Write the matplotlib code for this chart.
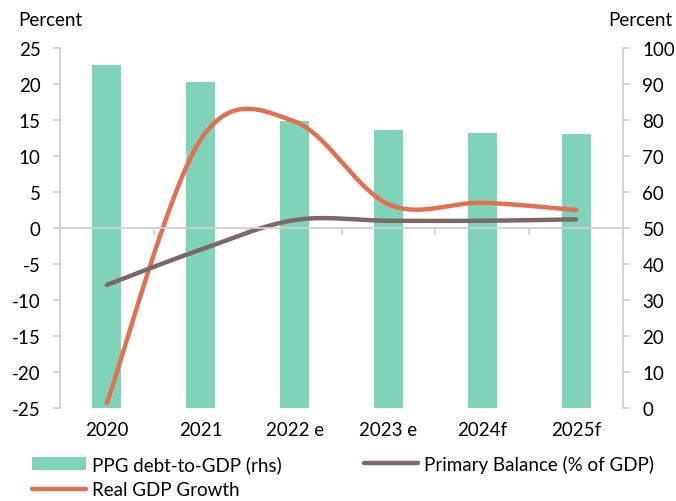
import matplotlib.pyplot as plt
import matplotlib.transforms as mtransforms
import numpy as np

plt.rcParams['font.family'] = ['Lato', 'DejaVu Sans']
plt.rcParams['font.size'] = 13.5
plt.rcParams['axes.unicode_minus'] = False

# Data

years = ['2020', '2021', '2022 e', '2023 e', '2024f', '2025f']
debt_to_gdp = [95.3, 90.6, 79.8, 77.2, 76.4, 76.1]        # rhs
real_gdp_growth = [-24.3, 12.3, 14.8, 3.3, 3.5, 2.5]      # lhs
primary_balance = [-7.9, -3.0, 1.1, 1.0, 1.0, 1.2]        # lhs

bar_color = '#7fd3b9'
gdp_color = '#e07050'
pb_color = '#7d6868'
axis_grey = '#d0d0d0'


def smooth(x, y, n=40):
    """Bezier smoothing through the points (like a spreadsheet 'smoothed line')."""
    x = np.asarray(x, float)
    y = np.asarray(y, float)
    px = np.concatenate([[x[0]], x, [x[-1]]])
    py = np.concatenate([[y[0]], y, [y[-1]]])
    t = np.linspace(0, 1, n)
    xs, ys = [], []
    for i in range(1, len(px) - 2):
        p0 = np.array([px[i], py[i]])
        p3 = np.array([px[i + 1], py[i + 1]])
        p1 = p0 + (p3 - np.array([px[i - 1], py[i - 1]])) / 6
        p2 = p3 - (np.array([px[i + 2], py[i + 2]]) - p0) / 6
        b = ((1 - t) ** 3)[:, None] * p0 + (3 * (1 - t) ** 2 * t)[:, None] * p1 \
            + (3 * (1 - t) * t ** 2)[:, None] * p2 + (t ** 3)[:, None] * p3
        xs.append(b[:, 0])
        ys.append(b[:, 1])
    return np.concatenate(xs), np.concatenate(ys)


# Figure

fig = plt.figure(figsize=(6.76, 5.02), dpi=100)
ax = fig.add_axes([0.0888, 0.1853, 0.8328, 0.7171])
ax2 = ax.twinx()

x = np.arange(len(years))

# bars on the right axis, drawn behind the lines
ax2.bar(x, debt_to_gdp, width=0.31, color=bar_color, zorder=1,
        label='PPG debt-to-GDP (rhs)')
ax2.set_ylim(0, 100)
ax2.set_yticks(np.arange(0, 101, 10))

ax.set_zorder(ax2.get_zorder() + 1)
ax.patch.set_visible(False)

sx, sy = smooth(x, real_gdp_growth)
l_gdp, = ax.plot(sx, sy, color=gdp_color, lw=3.2, solid_capstyle='round',
                 label='Real GDP Growth')
sx, sy = smooth(x, primary_balance)
l_pb, = ax.plot(sx, sy, color=pb_color, lw=3.2, solid_capstyle='round',
                label='Primary Balance (% of GDP)')

ax.set_ylim(-25, 25)
ax.set_yticks(np.arange(-25, 26, 5))
ax.set_xlim(-0.5, len(years) - 0.5)

# x axis line sits at zero, with ticks between the categories
ax.spines['bottom'].set_position(('data', 0))
ax.set_xticks(np.arange(-0.5, len(years), 1.0))
ax.set_xticklabels([])
ax.tick_params(axis='x', length=5, width=1.2, color=axis_grey, direction='out')

trans = mtransforms.blended_transform_factory(ax.transData, ax.transAxes)
for xi, lab in zip(x, years):
    ax.text(xi, -0.035, lab, transform=trans, ha='center', va='top')

for a in (ax, ax2):
    a.spines['top'].set_visible(False)
    for s in ('left', 'right', 'bottom'):
        a.spines[s].set_color(axis_grey)
        a.spines[s].set_linewidth(1.3)
ax.spines['right'].set_visible(False)
ax2.spines['left'].set_visible(False)
ax2.spines['bottom'].set_visible(False)

ax.tick_params(axis='y', length=5, width=1.2, color=axis_grey, pad=9)
ax2.tick_params(axis='y', length=5, width=1.2, color=axis_grey, pad=9)

fig.text(0.027, 0.96, 'Percent', ha='left', va='center')
fig.text(0.995, 0.96, 'Percent', ha='right', va='center')

handles = [ax2.patches[0], l_gdp, l_pb]
labels = ['PPG debt-to-GDP (rhs)', 'Real GDP Growth', 'Primary Balance (% of GDP)']
fig.legend(handles, labels, ncol=2, loc='lower left',
           bbox_to_anchor=(0.022, -0.028), frameon=False,
           handlelength=2.9, handletextpad=0.3, columnspacing=4.4,
           labelspacing=0.45)

fig.savefig('out.png', dpi=100)
